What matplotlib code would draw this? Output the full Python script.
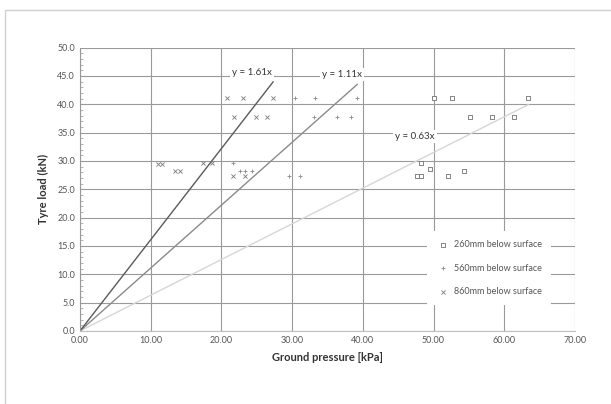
import numpy as np
import matplotlib.pyplot as plt
from matplotlib.patches import Rectangle
from matplotlib.ticker import MultipleLocator

# Ground pressure [kPa] and tyre load [kN]
x_260 = [50.0, 52.6, 63.4, 55.1, 58.3, 61.4, 48.2, 49.5, 47.6, 48.2, 52.0, 54.3]
y_260 = [41.2, 41.2, 41.2, 37.7, 37.7, 37.7, 29.6, 28.5, 27.4, 27.4, 27.4, 28.3]

x_560 = [30.4, 33.2, 39.2, 33.1, 36.3, 38.3, 21.6, 22.6, 24.3, 29.6, 31.1, 23.3]
y_560 = [41.2, 41.2, 41.2, 37.7, 37.7, 37.7, 29.6, 28.3, 28.3, 27.4, 27.4, 28.3]

x_860 = [20.8, 23.0, 27.3, 21.8, 24.9, 26.5, 11.0, 11.6, 13.5, 14.1, 17.4, 18.7, 21.6, 23.3]
y_860 = [41.2, 41.2, 41.2, 37.7, 37.7, 37.7, 29.4, 29.4, 28.2, 28.2, 29.6, 29.6, 27.3, 27.3]

slopes = [0.63, 1.11, 1.61]
labels = ["260mm below surface", "560mm below surface", "860mm below surface"]
eq_pos = [(47.4, 34.3), (37.1, 45.2), (24.3, 45.6)]

plt.rcParams['font.family'] = ['Lato', 'DejaVu Sans']

fig = plt.figure(figsize=(6.11, 4.04), dpi=100)
ax = fig.add_axes([0.131, 0.181, 0.810, 0.701])

# outer chart frame
fig.add_artist(Rectangle((0.008, -0.01), 1.1, 0.985, transform=fig.transFigure,
                         fill=False, edgecolor='#d0d0d0', linewidth=1.0))

# gridlines
ax.set_axisbelow(True)
ax.grid(True, which='major', color='#9a9a9a', linewidth=0.8)

ax.scatter(x_260, y_260, marker='s', s=9, facecolors='white', edgecolors='#707070',
           linewidths=0.6, label=labels[0], zorder=3)
ax.scatter(x_560, y_560, marker='+', s=12, color='#8a8a8a', linewidths=0.6,
           label=labels[1], zorder=3)
ax.scatter(x_860, y_860, marker='x', s=9, color='#7a7a7a', linewidths=0.6,
           label=labels[2], zorder=3)

# trendlines through origin up to the largest pressure of each series
line_colors = ['#d6d6d6', '#8a8a8a', '#5a5a5a']
for xs, k, c, (tx, ty) in zip([x_260, x_560, x_860], slopes, line_colors, eq_pos):
    xe = np.array([0, max(xs)])
    ax.plot(xe, k * xe, color=c, linewidth=1.0, zorder=2)
    ax.text(tx, ty, "y = %.2fx" % k, fontsize=7, ha='center', va='center', color='#333333',
            bbox=dict(facecolor='white', edgecolor='none', pad=1.5), zorder=4)

ax.set_xlim(0, 70)
ax.set_ylim(0, 50)
ax.xaxis.set_major_locator(MultipleLocator(10))
ax.yaxis.set_major_locator(MultipleLocator(5))
ax.yaxis.set_minor_locator(MultipleLocator(1))
ax.set_xticks(np.arange(0, 71, 10))
ax.set_xticklabels(["%.2f" % v for v in np.arange(0, 71, 10)])
ax.set_yticks(np.arange(0, 51, 5))
ax.set_yticklabels(["%.1f" % v for v in np.arange(0, 51, 5)])
ax.tick_params(axis='both', which='major', labelsize=6.5, colors='#555555', length=0)
ax.tick_params(axis='y', which='minor', length=2, color='#aaaaaa', direction='in')

for side in ['top', 'right']:
    ax.spines[side].set_visible(False)
ax.spines['left'].set_color('#999999')
ax.spines['left'].set_linewidth(0.8)
ax.spines['bottom'].set_color('#c0c0c0')
ax.spines['bottom'].set_linestyle((0, (2, 1)))
ax.spines['bottom'].set_linewidth(0.8)

ax.set_xlabel("Ground pressure [kPa]", fontsize=8, fontweight='bold', color='#333333', labelpad=5)
ax.set_ylabel("Tyre load (kN)", fontsize=8, fontweight='bold', color='#333333', labelpad=6)

leg = ax.legend(loc='lower right', bbox_to_anchor=(0.96, 0.075), fontsize=6.5,
                frameon=True, framealpha=1.0, edgecolor='none', labelspacing=1.6,
                handletextpad=0.4, borderpad=1.0, handlelength=1.5, markerscale=1.0)
for t in leg.get_texts():
    t.set_color('#555555')

plt.savefig("out.png", dpi=100)
